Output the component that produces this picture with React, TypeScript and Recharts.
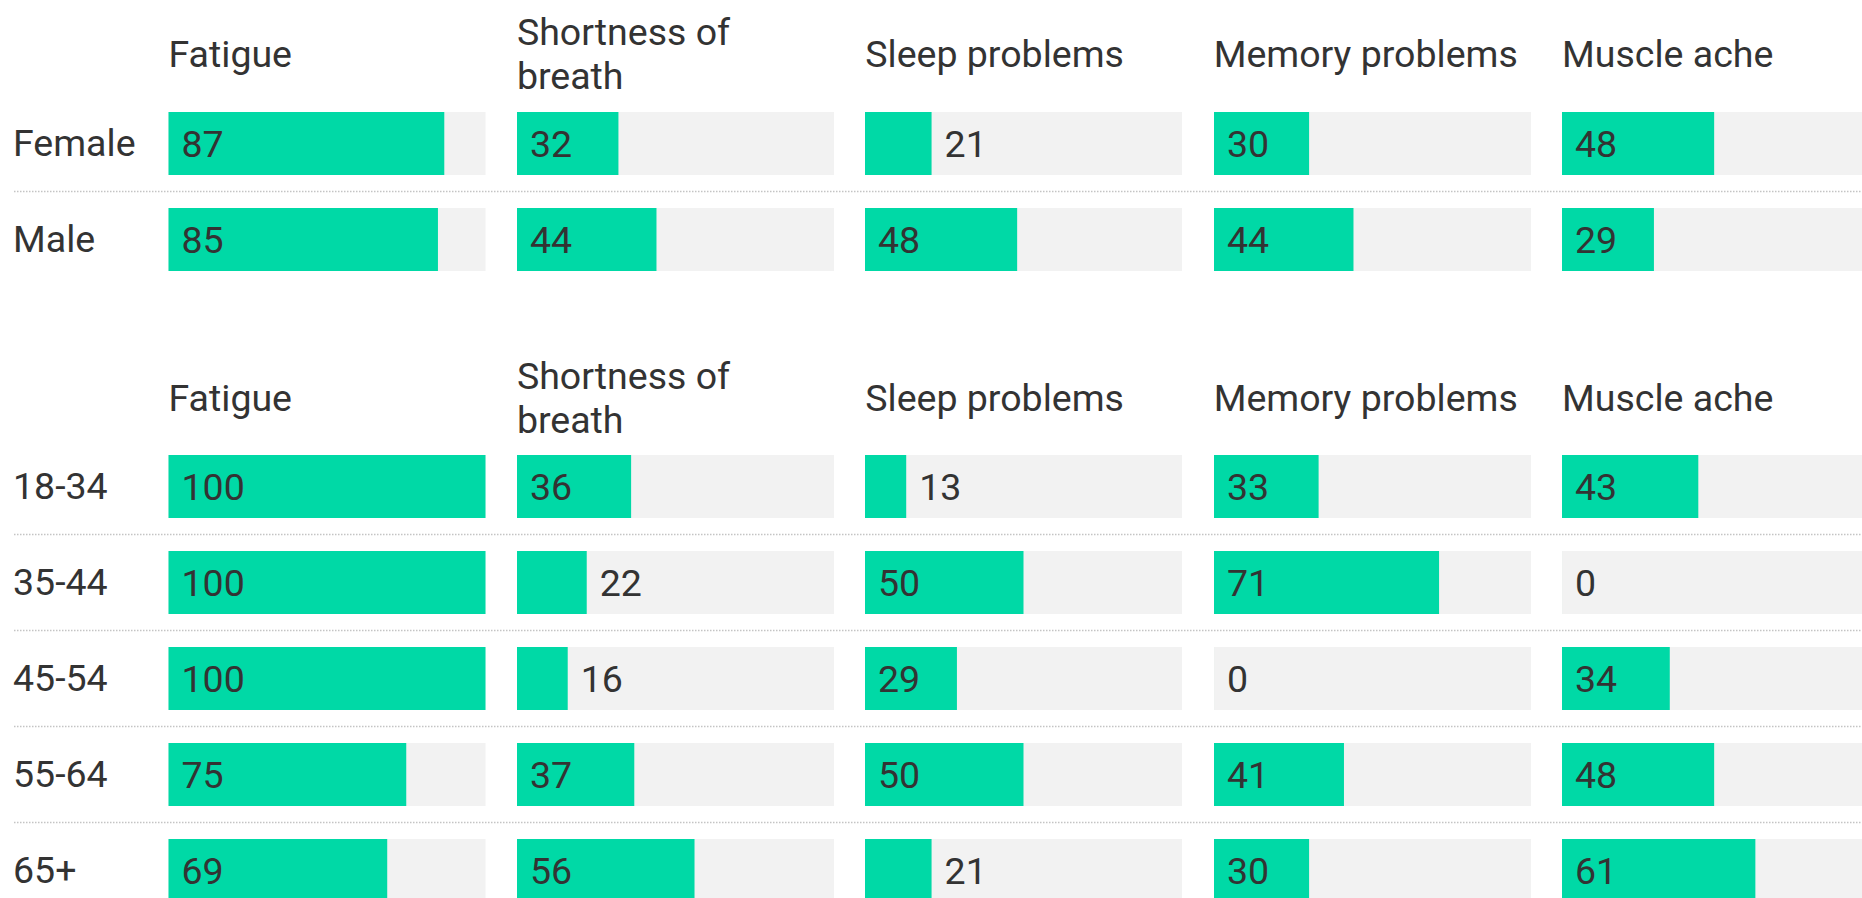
import { Bar, BarChart, LabelList, XAxis, YAxis } from 'recharts';

const symptoms = ['Fatigue', 'Shortness of breath', 'Sleep problems', 'Memory problems', 'Muscle ache'];
const symptomKeys = ['fatigue', 'breath', 'sleep', 'memory', 'muscle'];

// by sex
const sexGroups = ['Female', 'Male'];
const sexFatigue = [87, 85];
const sexBreath = [32, 44];
const sexSleep = [21, 48];
const sexMemory = [30, 44];
const sexMuscle = [48, 29];

// by age
const ageGroups = ['18-34', '35-44', '45-54', '55-64', '65+'];
const ageFatigue = [100, 100, 100, 75, 69];
const ageBreath = [36, 22, 16, 37, 56];
const ageSleep = [13, 50, 29, 50, 21];
const ageMemory = [33, 71, 0, 41, 30];
const ageMuscle = [43, 0, 34, 48, 61];

type Row = { group: string; [k: string]: string | number };

const buildRows = (groups: string[], series: number[][]): Row[] =>
  groups.map((group, i) => {
    const row: Row = { group };
    symptomKeys.forEach((key, k) => {
      row[key] = series[k][i];
    });
    return row;
  });

const sexRows = buildRows(sexGroups, [sexFatigue, sexBreath, sexSleep, sexMemory, sexMuscle]);
const ageRows = buildRows(ageGroups, [ageFatigue, ageBreath, ageSleep, ageMemory, ageMuscle]);

const GREEN = '#00d9a6';
const TRACK = '#f2f2f2';
const INK = '#333';
const FONT = 'Roboto, sans-serif';
const FS = 37.5;

const COL_X0 = 168.5;
const COL_STEP = 348.4;
const COL_W = 317;
const ROW = 96;
const BAR = 63;

const ValueLabel = (props: any) => {
  const { x, y, width, height, value } = props;
  const w = Math.max(0, Number(width) || 0);
  const textW = String(value).length * 0.5615 * FS;
  const inside = w >= textW + 30;
  const tx = inside ? x + 13 : x + w + 13;
  return (
    <text x={tx} y={y + height / 2 + FS * 0.355} fill={INK} fontSize={FS} fontFamily={FONT}>
      {value}
    </text>
  );
};

const GroupTick = (props: any) => {
  const { y, payload } = props;
  return (
    <text x={13} y={y + FS * 0.355} fill={INK} fontSize={FS} fontFamily={FONT}>
      {payload.value}
    </text>
  );
};

function Panel({ top, rows }: { top: number; rows: Row[] }) {
  const h = rows.length * ROW;
  return (
    <>
      {symptoms.map((name, k) => (
        <div
          key={name}
          style={{
            position: 'absolute',
            left: COL_X0 + k * COL_STEP,
            top: top - 84.5,
            width: COL_W,
            height: 88,
            display: 'flex',
            alignItems: 'center',
            fontFamily: FONT,
            fontSize: FS,
            lineHeight: '44px',
            color: INK,
          }}
        >
          <div>{name}</div>
        </div>
      ))}
      <svg style={{ position: 'absolute', left: 0, top, overflow: 'visible' }} width={1862} height={h}>
        {rows.slice(1).map((r, i) => (
          <line
            key={r.group}
            x1={14}
            x2={1862}
            y1={(i + 1) * ROW + 0.5}
            y2={(i + 1) * ROW + 0.5}
            stroke="#c4c4c4"
            strokeWidth={1.5}
            strokeDasharray="1.5 1.5"
          />
        ))}
      </svg>
      {symptomKeys.map((key, k) => {
        const first = k === 0;
        const left = first ? 0 : COL_X0 + k * COL_STEP;
        const width = first ? COL_X0 + COL_W : COL_W;
        return (
          <div key={key} style={{ position: 'absolute', left, top, width, height: h }}>
            <BarChart
              width={width}
              height={h}
              data={rows}
              layout="vertical"
              margin={{ top: 0, right: 0, bottom: 0, left: 0 }}
              barCategoryGap={0}
            >
              <XAxis type="number" domain={[0, 100]} hide />
              <YAxis
                type="category"
                dataKey="group"
                hide={!first}
                width={first ? COL_X0 : 0}
                axisLine={false}
                tickLine={false}
                tick={<GroupTick />}
              />
              <Bar
                dataKey={key}
                fill={GREEN}
                barSize={BAR}
                minPointSize={0.01}
                background={{ fill: TRACK }}
                isAnimationActive={false}
              >
                <LabelList dataKey={key} content={<ValueLabel />} />
              </Bar>
            </BarChart>
          </div>
        );
      })}
    </>
  );
}

export default function App() {
  return (
    <div
      style={{
        position: 'fixed',
        left: 0,
        top: 0,
        width: 1862,
        height: 898,
        overflow: 'hidden',
        background: '#fff',
      }}
    >
      <Panel top={94.5} rows={sexRows} />
      <Panel top={438.3} rows={ageRows} />
    </div>
  );
}
